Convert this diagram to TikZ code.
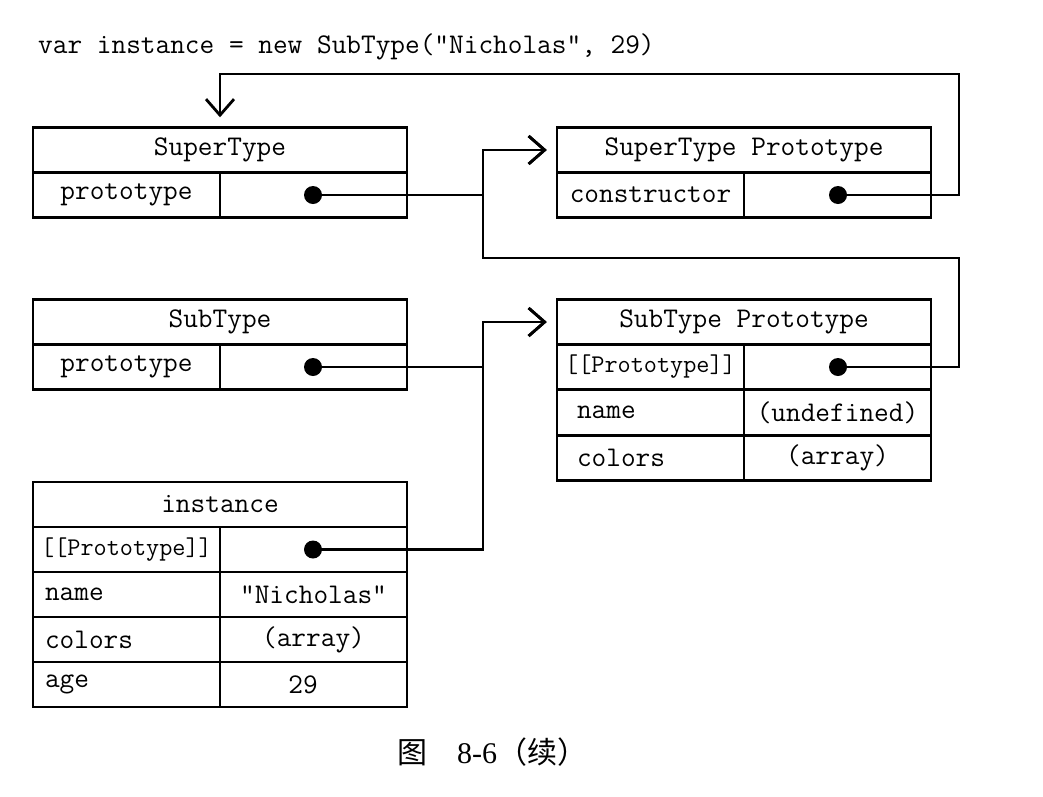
\documentclass[tikz,border=0pt]{standalone}
\usepackage{fontspec}
\setmainfont{Liberation Serif}
\newfontfamily\cjk{Noto Sans CJK SC}
\usetikzlibrary{arrows.meta,positioning}
\tikzset{
  % TABLE HEADERS
  frameHead/.style={
    rectangle, draw, line width=2.5pt,
    minimum width=374pt, minimum height=45pt, inner sep=0pt
  },
  % KEY AND VALUE CELLS
  frameKey/.style={
    rectangle, draw, line width=2.5pt,
    minimum width=187pt, minimum height=45pt, inner sep=0pt
  },
  frameKeyLeft/.style={
    frameKey, text width=163pt, align=left
  },
  frameVal/.style={
    frameKey
  },
  frameSlot/.style={
    frameKey, font=\fontsize{25.5}{30}\selectfont\ttfamily
  },
  % POINTER DOTS
  framePtr/.style={
    circle, fill=black, inner sep=0pt, minimum size=18pt
  },
  % REFERENCES
  lineRef/.style={
    draw, line width=2.8pt, shorten >=9pt,
    -{Straight Barb[length=16pt,width=28pt]}
  }
}
\begin{document}
\begin{tikzpicture}[x=1pt,y=-1pt,font=\fontsize{28.5}{30}\selectfont\ttfamily]

\useasboundingbox (0,0) rectangle (1043,796);

% Code line
\node [anchor=west, inner sep=0pt] (code) at (38,47) {var instance = new SubType("Nicholas", 29)} ;

% SuperType
\node [frameHead] (supHead) at (220,150) {SuperType} ;
\node [frameKey] (supKey) at (126.5,195) {prototype} ;
\node [frameVal] (supVal) at (313.5,195) {} ;

% SubType
\node [frameHead] (subHead) at (220,322) {SubType} ;
\node [frameKey] (subKey) at (126.5,367) {prototype} ;
\node [frameVal] (subVal) at (313.5,367) {} ;

% instance
\node [frameHead] (instHead) at (220,504.5) {instance} ;
\node [frameSlot] (instKey1) at (126.5,549.5) {[[Prototype]]} ;
\node [frameVal] (instVal1) at (313.5,549.5) {} ;
\node [frameKeyLeft] (instKey2) at (126.5,594.5) {name} ;
\node [frameVal] (instVal2) at (313.5,594.5) {"Nicholas"} ;
\node [frameKeyLeft] (instKey3) at (126.5,639.5) {colors} ;
\node [frameVal] (instVal3) at (313.5,639.5) {(array)} ;
\node [frameKeyLeft] (instKey4) at (126.5,684.5) {age} ;
\node [frameVal] (instVal4) at (303,684.5) [minimum width=0pt, draw=none] {29} ;
\node [frameVal] (instVal4box) at (313.5,684.5) {} ;

% SuperType Prototype
\node [frameHead] (supProtoHead) at (744,150) {SuperType Prototype} ;
\node [frameKey] (supProtoKey) at (650.5,195) {constructor} ;
\node [frameVal] (supProtoVal) at (837.5,195) {} ;

% SubType Prototype
\node [frameHead] (subProtoHead) at (744,322) {SubType Prototype} ;
\node [frameSlot] (subProtoKey1) at (650.5,367) {[[Prototype]]} ;
\node [frameVal] (subProtoVal1) at (837.5,367) {} ;
\node [frameKeyLeft, text width=147pt] (subProtoKey2) at (650.5,412.5) {name} ;
\node [frameVal] (subProtoVal2) at (837.5,412.5) {(undefined)} ;
\node [frameKeyLeft, text width=147pt] (subProtoKey3) at (650.5,458) {colors} ;
\node [frameVal] (subProtoVal3) at (837.5,458) {(array)} ;

% Pointers
\node [framePtr] (supPtr) at (313,195) {} ;
\node [framePtr] (subPtr) at (313,367) {} ;
\node [framePtr] (instPtr) at (313,549.5) {} ;
\node [framePtr] (ctorPtr) at (838,195) {} ;
\node [framePtr] (subProtoPtr) at (838,367) {} ;

% Turning points
\coordinate (bus) at (483,258) ;
\coordinate (ctorTurn) at (959,74) ;
\coordinate (protoTurn) at (959,258) ;

% Lines
\path [lineRef] (supPtr) -- (supPtr -| bus) |- (supProtoHead.west) ;
\path [lineRef] (subPtr) -- (subPtr -| bus) |- (subProtoHead.west) ;
\path [lineRef] (instPtr) -- (instPtr -| bus) |- (subProtoHead.west) ;
\path [lineRef] (subProtoPtr) -| (protoTurn) -- (bus) |- (supProtoHead.west) ;
\path [lineRef] (ctorPtr) -| (ctorTurn) -| (supHead.north) ;

% Caption
\node [font=\fontsize{30}{34}\selectfont\rmfamily] (caption) at (492,752) {{\cjk 图}\hspace{30pt}8-6{\cjk （续）}} ;

\end{tikzpicture}
\end{document}
